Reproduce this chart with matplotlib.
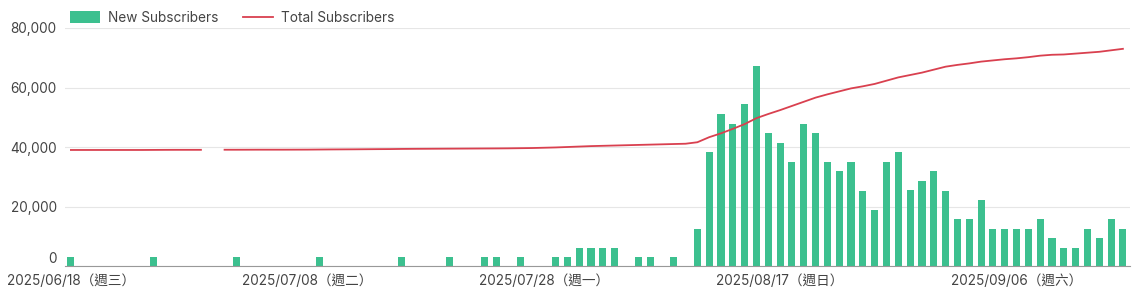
import matplotlib
matplotlib.use("Agg")
import numpy as np
import pandas as pd
import matplotlib.pyplot as plt

plt.rcParams['font.family'] = ['Inter', 'Noto Sans CJK TC', 'DejaVu Sans']

# 90 days starting 2025/06/18
dates = pd.date_range("2025-06-18", periods=90, freq="D")

# new subscribers per day (only days with a bar)
bar_days = [0, 7, 14, 21, 28, 32, 35, 36, 38, 41, 42, 43, 44, 45, 46, 48, 49, 51,
            53, 54, 55, 56, 57, 58, 59, 60, 61, 62, 63, 64, 65, 66, 67, 68, 69, 70,
            71, 72, 73, 74, 75, 76, 77, 78, 79, 80, 81, 82, 83, 84, 85, 86, 87, 88, 89]
bar_vals = [3100, 3100, 3100, 3100, 3100, 3100, 3100, 3100, 3100, 3100, 3100,
            6200, 6200, 6200, 6200, 3100, 3100, 3100,
            12400, 38400, 51200, 47800, 54600, 67300, 44800, 41300, 35000, 47800,
            44800, 35000, 31900, 35000, 25200, 18800, 35000, 38400,
            25500, 28600, 31900, 25200, 15800, 15800, 22200, 12400, 12400, 12400,
            12400, 15800, 9400, 6100, 6100, 12400, 9400, 15800, 12400]

# total subscribers per day (day 12 missing)
total = [39000, 39000, 39000, 39000, 39000, 39000, 39000, 39020, 39040, 39050,
         39050, 39050, np.nan, 39080, 39080, 39090, 39100, 39100, 39100, 39110,
         39120, 39150, 39180, 39200, 39220, 39250, 39280, 39300, 39350, 39380,
         39400, 39420, 39440, 39460, 39480, 39500, 39520, 39550, 39600, 39650,
         39750, 39850, 40000, 40150, 40300, 40400, 40500, 40600, 40700, 40800,
         40900, 41000, 41100, 41600, 43300, 44600, 46100, 47700, 49700, 51100,
         52400, 53800, 55200, 56600, 57700, 58700, 59700, 60400, 61200, 62300,
         63400, 64200, 65000, 66000, 67000, 67600, 68100, 68700, 69100, 69500,
         69800, 70200, 70700, 71000, 71100, 71400, 71700, 72000, 72500, 73000]

x = np.arange(len(dates))
tick_pos = [0, 20, 40, 60, 80]
weekdays = ["一", "二", "三", "四", "五", "六", "日"]
tick_labels = [dates[i].strftime("%Y/%m/%d") + "（週" + weekdays[dates[i].weekday()] + "）"
               for i in tick_pos]

fig = plt.figure(figsize=(11.47, 2.92), dpi=100)
ax = fig.add_axes([65 / 1147, 26 / 292, 1065 / 1147, 238 / 292])

bars = ax.bar(bar_days, bar_vals, width=0.6, color="#3cc08f", label="New Subscribers", zorder=2)
line, = ax.plot(x, total, color="#d9404f", linewidth=1.3, label="Total Subscribers", zorder=3)

ax.set_xlim(-0.5, 89.6)
ax.set_ylim(0, 80000)
ax.set_yticks([0, 20000, 40000, 60000, 80000])
ax.set_yticklabels(["{:,}".format(v) for v in [0, 20000, 40000, 60000, 80000]])
ax.set_xticks(tick_pos)
ax.set_xticklabels(tick_labels)

ax.grid(axis="y", color="#e6e6e6", linewidth=0.8, zorder=0)
for s in ["top", "right", "left"]:
    ax.spines[s].set_visible(False)
ax.spines["bottom"].set_color("#999999")
ax.tick_params(axis="both", length=0, labelsize=9.8, colors="#444444")
ax.tick_params(axis="x", pad=6)
ax.tick_params(axis="y", pad=6)
# lift the "0" label a touch so it clears the first date label
ax.get_yticklabels()[0].set_verticalalignment("bottom")

fig.legend([bars, line], ["New Subscribers", "Total Subscribers"],
           loc="upper left", bbox_to_anchor=(0.05, 1.005), ncol=2, frameon=False,
           fontsize=9.8, handlelength=2.2, handleheight=0.9, columnspacing=1.8,
           handletextpad=0.6, labelcolor="#444444")

fig.savefig("out.png", dpi=100)
